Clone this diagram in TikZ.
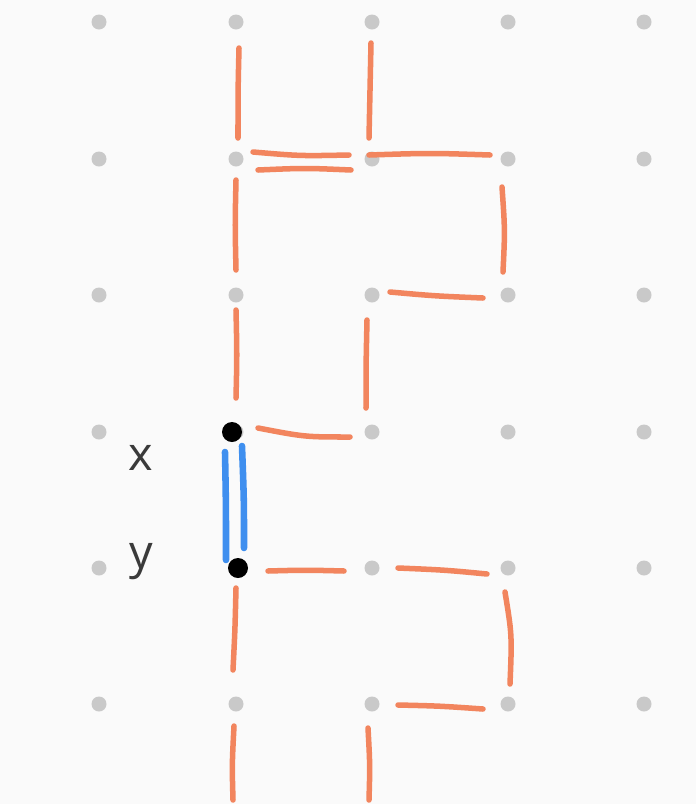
\documentclass[tikz,border=0pt]{standalone}
\usepackage{fontspec}
\setmainfont{Open Sans}
\definecolor{bg}{HTML}{FAFAFA}
\definecolor{dotc}{HTML}{C9C9C9}
\definecolor{orng}{HTML}{F2855E}
\definecolor{blu}{HTML}{3F8FEF}
\definecolor{lbl}{HTML}{3A3A3A}
\tikzset{
  stroke/.style={line width=4.7pt, line cap=round, orng},
  bstroke/.style={line width=5.6pt, line cap=round, blu},
  griddot/.style={circle, fill=dotc, inner sep=0pt, minimum size=0.45cm},
  blackdot/.style={circle, fill=black, inner sep=0pt, minimum size=0.6cm},
  lab/.style={text=lbl, font=\fontsize{40}{48}\selectfont, inner sep=0pt}
}
\begin{document}
\begin{tikzpicture}[x=0.03cm,y=-0.03cm]
\fill[bg] (0,0) rectangle (696,804);
\useasboundingbox (0,0) rectangle (696,804);
% grid dots
\foreach \c/\xx in {0/99,1/236,2/372,3/508,4/644}{
  \foreach \r/\yy in {0/22,1/159,2/295,3/432,4/568,5/704}{
    \node[griddot] (g-\c-\r) at (\xx,\yy) {};
  }
}
% orange strokes
\draw[stroke] (239,48) .. controls (238,90) .. (238,138);
\draw[stroke] (371,43) .. controls (370,90) .. (369,138);
\draw[stroke] (253,152) .. controls (300,156) .. (349,155);
\draw[stroke] (258,170) .. controls (305,168) .. (351,170);
\draw[stroke] (369,155) .. controls (430,153) .. (490,155);
\draw[stroke] (236,180) .. controls (235,225) .. (236,270);
\draw[stroke] (502,187) .. controls (505,230) .. (503,272);
\draw[stroke] (390,292) .. controls (435,296) .. (483,298);
\draw[stroke] (236,310) .. controls (237,355) .. (236,398);
\draw[stroke] (367,320) .. controls (366,365) .. (366,408);
\draw[stroke] (258,428) .. controls (305,437) .. (350,437);
\draw[stroke] (268,571) .. controls (305,570) .. (344,571);
\draw[stroke] (398,568) .. controls (445,570) .. (487,574);
\draw[stroke] (505,592) .. controls (512,635) .. (510,684);
\draw[stroke] (236,588) .. controls (235,630) .. (233,670);
\draw[stroke] (398,705) .. controls (440,706) .. (483,709);
\draw[stroke] (234,726) .. controls (232,765) .. (233,800);
\draw[stroke] (368,728) .. controls (370,765) .. (369,800);
% blue double stroke
\draw[bstroke] (225,452) .. controls (226,505) .. (226,560);
\draw[bstroke] (242,446) .. controls (244,500) .. (244,548);
% black endpoints
\node[blackdot] (px) at (232,432) {};
\node[blackdot] (py) at (238,568) {};
% labels
\node[lab] (lx) at (141,458) {x};
\node[lab] (ly) at (141,562) {y};
\end{tikzpicture}
\end{document}
